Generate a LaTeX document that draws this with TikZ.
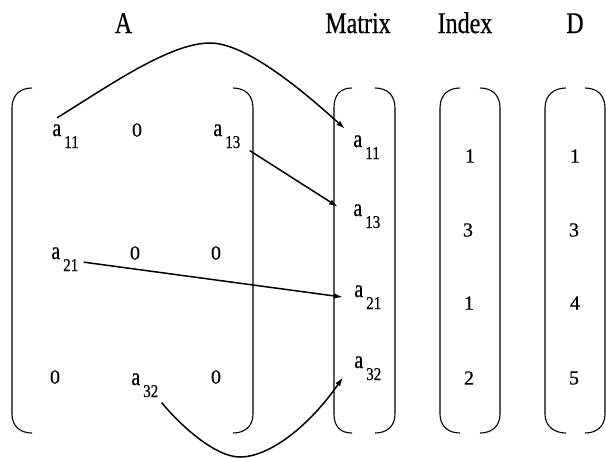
\documentclass[tikz,border=0pt]{standalone}
\usepackage{fontspec}
\setmainfont{Liberation Serif}[FakeBold=0.6]
\usetikzlibrary{arrows.meta}
\newcommand\aij[1]{\scalebox{1}[1.25]{a}\hspace{1.5pt}\raisebox{-6pt}{\fontsize{7.5}{9}\selectfont\scalebox{1}[1.2]{#1}}}
\newcommand\vstr[1]{\scalebox{1}[1.25]{#1}}
\begin{document}
\begin{tikzpicture}[x=0.5pt,y=-0.5pt,
  title/.style={inner sep=0pt,anchor=base,font=\fontsize{12}{14}\selectfont},
  ent/.style={inner sep=0pt,anchor=base west,font=\fontsize{10}{12}\selectfont},
  digit/.style={inner sep=0pt,font=\fontsize{10}{12}\selectfont},
  brk/.style={line width=0.55pt},
  arr/.style={line width=0.75pt,-{Latex[length=4.5pt,width=2.8pt]}}]
\useasboundingbox (0,0) rectangle (606,457);
% titles
\node[title] (tA) at (123.5,33) {\vstr{A}};
\node[title] (tM) at (358,33) {\vstr{Matrix}};
\node[title] (tI) at (465,33) {\vstr{Index}};
\node[title] (tD) at (575,33) {\vstr{D}};
% brackets
\draw[brk] (32,88) .. controls (20,88) and (12,95) .. (12,108) -- (12,414) .. controls (12,426) and (20,433) .. (32,433);
\draw[brk] (233,88) .. controls (245,88) and (253,95) .. (253,108) -- (253,414) .. controls (253,426) and (245,433) .. (233,433);
\draw[brk] (352,88) .. controls (340,88) and (334,95) .. (334,108) -- (334,414) .. controls (334,426) and (340,433) .. (352,433);
\draw[brk] (375,88) .. controls (387,88) and (395,95) .. (395,108) -- (395,414) .. controls (395,426) and (387,433) .. (375,433);
\draw[brk] (460,88) .. controls (448,88) and (440,95) .. (440,108) -- (440,414) .. controls (440,426) and (448,433) .. (460,433);
\draw[brk] (480,88) .. controls (492,88) and (500,95) .. (500,108) -- (500,414) .. controls (500,426) and (492,433) .. (480,433);
\draw[brk] (566,88) .. controls (554,88) and (545,95) .. (545,108) -- (545,414) .. controls (545,426) and (554,433) .. (566,433);
\draw[brk] (585,88) .. controls (597,88) and (605,95) .. (605,108) -- (605,414) .. controls (605,426) and (597,433) .. (585,433);
% matrix A
\node[ent] (A11) at (52,136) {\aij{11}};
\node[digit] (A12) at (137,130) {0};
\node[ent] (A13) at (213,136) {\aij{13}};
\node[ent] (A21) at (51,259) {\aij{21}};
\node[digit] (A22) at (135,253) {0};
\node[digit] (A23) at (216,253) {0};
\node[digit] (A31) at (55,377) {0};
\node[ent] (A32) at (131,385) {\aij{32}};
\node[digit] (A33) at (216,377) {0};
% Matrix column
\node[ent] (M11) at (353,147) {\aij{11}};
\node[ent] (M13) at (353,216) {\aij{13}};
\node[ent] (M21) at (354,297) {\aij{21}};
\node[ent] (M32) at (354,368) {\aij{32}};
% Index column
\node[digit] (I1) at (470,156) {1};
\node[digit] (I2) at (468,230) {3};
\node[digit] (I3) at (469,303) {1};
\node[digit] (I4) at (469,378) {2};
% D column
\node[digit] (D1) at (575,156) {1};
\node[digit] (D2) at (574,230) {3};
\node[digit] (D3) at (575,303) {4};
\node[digit] (D4) at (574,378) {5};
% arrows
\draw[arr] ([shift={(5,-6)}]A11.north west) .. controls (110,85) and (170,43) .. (210,43)
  .. controls (245,43) and (300,88) .. ([shift={(-8,-6)}]M11.north west);
\draw[arr] ([shift={(9,2)}]A13.south east) -- ([shift={(-15,3)}]M13.north west);
\draw[arr] ([shift={(5,3)}]A21.east) -- ([shift={(-11,0)}]M21.west);
\draw[arr] ([shift={(3,5)}]A32.south east) .. controls (180,425) and (215,457) .. (240,457)
  .. controls (270,457) and (310,425) .. ([shift={(-11,9)}]M32.west);
\end{tikzpicture}
\end{document}
